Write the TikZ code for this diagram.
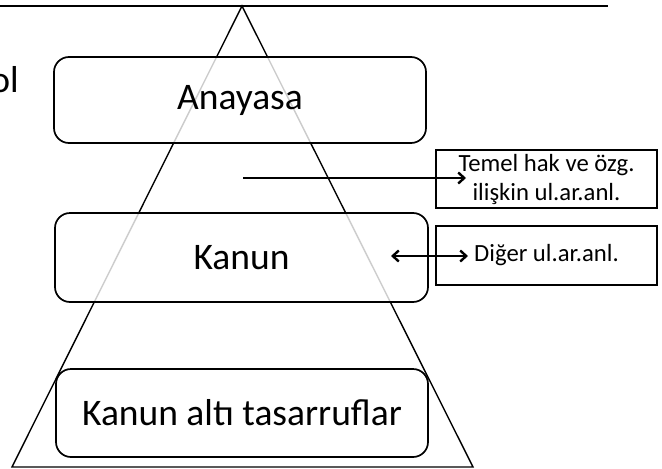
\documentclass[tikz,border=0pt]{standalone}
\usepackage{fontspec}
\setmainfont{Carlito}
\usetikzlibrary{arrows.meta}
\begin{document}
\begin{tikzpicture}[x=1pt,y=-1pt,
  lvlbox/.style={draw=black,line width=1.7pt,rounded corners=15pt,fill=white,fill opacity=0.8,text opacity=1,inner sep=0pt,font=\fontsize{37.5}{45}\selectfont},
  sidebox/.style={draw=black,line width=1.5pt,fill=white,inner sep=0pt,align=center,font=\fontsize{24.7}{29}\selectfont},
  arr/.style={line width=2.4pt,-{Straight Barb[length=6pt,width=11pt,line width=2.4pt]}},
  darr/.style={line width=2.4pt,{Straight Barb[length=6pt,width=11pt,line width=2.4pt]}-{Straight Barb[length=6pt,width=11pt,line width=2.4pt]}}
]
\useasboundingbox (0,0) rectangle (662,469);
% top rule and apex
\coordinate (tl) at (0,6);
\coordinate (tr) at (608,6);
\draw[line width=1.7pt] (tl) -- (tr);
\coordinate (apex) at (242,6);
\coordinate (bl) at (12,467);
\coordinate (br) at (473,467);
\draw[line width=1.4pt,line join=miter] (apex) -- (bl) -- (br) -- cycle;
% partial title text
\node[anchor=base east,inner sep=0pt,font=\fontsize{37.5}{45}\selectfont] (ttl) at (19,92) {ol};
% levels
\node[lvlbox,minimum width=372pt,minimum height=86pt] (ana) at (240,100) {Anayasa};
\node[lvlbox,minimum width=373pt,minimum height=89pt] (kan) at (241.5,257.5) {Kanun};
\node[lvlbox,minimum width=372pt,minimum height=88pt] (alt) at (242,413) {Kanun altı tasarruflar};
% side boxes
\node[sidebox,minimum width=221pt,minimum height=58pt] (tem) at (546.5,179) {Temel hak ve özg.\\ilişkin ul.ar.anl.};
\node[sidebox,minimum width=221pt,minimum height=59pt] (dig) at (546.5,255.5) {Diğer ul.ar.anl.};
% arrows
\coordinate (a1s) at (243,178);
\coordinate (a1e) at (466,178);
\draw[arr] (a1s) -- (a1e);
\coordinate (a2s) at (391,256);
\coordinate (a2e) at (468,256);
\draw[darr] (a2s) -- (a2e);
\end{tikzpicture}
\end{document}
